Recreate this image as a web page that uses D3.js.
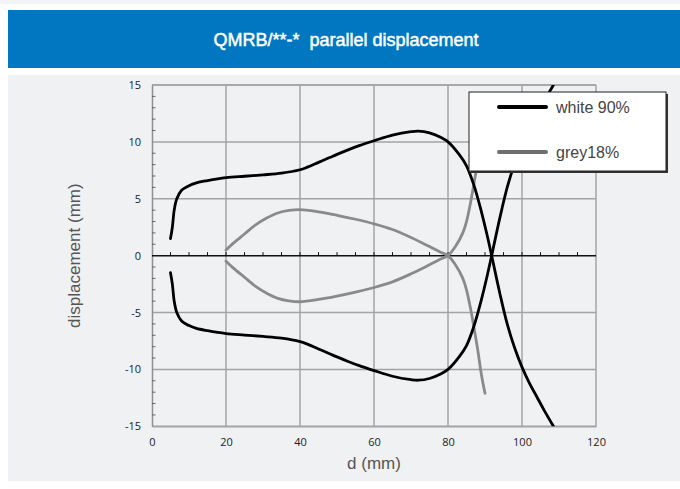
<!DOCTYPE html>
<html>
<head>
<meta charset="utf-8">
<script src="https://cdn.jsdelivr.net/npm/d3@7"></script>
<style>
  html, body { margin: 0; padding: 0; background: #ffffff; }
  svg { display: block; }
</style>
</head>
<body>
<svg id="chart" width="680" height="489"></svg>
<script>
// Parallel displacement of the QMRB sensor over scanning distance d
const titleText = "QMRB/**-*  parallel displacement";
const xTicks = [0, 20, 40, 60, 80, 100, 120];
const yTicks = [-15, -10, -5, 0, 5, 10, 15];
const seriesNames = ["white 90%", "grey18%"];

// white 90% target: distance (mm) and displacement of both edges (mm)
const whiteD = [5, 5.5, 6, 6.7, 8, 10, 12, 15, 20, 25, 30, 35, 40, 42, 45, 48, 50, 53, 56, 60, 65, 70, 72, 75, 78, 80, 83, 85, 87, 89, 90.5, 91.8, 94, 96, 98, 100, 102, 104, 106, 108.5];
const whiteUpper = [1.5, 2.5, 4.0, 5.0, 5.75, 6.15, 6.4, 6.6, 6.85, 6.98, 7.1, 7.25, 7.55, 7.78, 8.2, 8.62, 8.9, 9.3, 9.67, 10.1, 10.6, 10.9, 10.95, 10.8, 10.4, 10.0, 8.9, 7.9, 6.2, 3.9, 1.9, 0, -3.3, -6.0, -8.1, -9.8, -11.2, -12.4, -13.6, -15];
const whiteLower = [-1.5, -2.5, -4.0, -5.0, -5.75, -6.15, -6.4, -6.6, -6.85, -6.98, -7.1, -7.25, -7.55, -7.78, -8.2, -8.62, -8.9, -9.3, -9.67, -10.1, -10.6, -10.9, -10.95, -10.8, -10.4, -10.0, -8.9, -7.9, -6.2, -3.9, -1.9, 0, 3.3, 6.0, 8.1, 9.8, 11.2, 12.4, 13.6, 15];

// grey 18% target
const greyD = [20, 22, 25, 28, 31, 34, 37, 40, 45, 50, 55, 60, 65, 70, 75, 78, 80, 82, 84, 85, 86, 87, 88, 89, 90];
const greyUpper = [0.5, 1.1, 1.9, 2.7, 3.3, 3.75, 3.97, 4.05, 3.85, 3.55, 3.2, 2.8, 2.3, 1.6, 0.8, 0.3, 0, -0.8, -2.0, -3.0, -4.5, -6.3, -8.2, -10.4, -12.1];
const greyLower = [-0.5, -1.1, -1.9, -2.7, -3.3, -3.75, -3.97, -4.05, -3.85, -3.55, -3.2, -2.8, -2.3, -1.6, -0.8, -0.3, 0, 0.8, 2.0, 3.0, 4.5, 6.3, 8.2, 10.4, 12.1];

const svg = d3.select("#chart");

// page frame: header band and light panel
svg.append("rect").attr("x", 0).attr("y", 0).attr("width", 680).attr("height", 489).attr("fill", "#ffffff");
svg.append("rect").attr("x", 0).attr("y", 0).attr("width", 680).attr("height", 4).attr("fill", "#f3f4f5");
svg.append("rect").attr("x", 8).attr("y", 10).attr("width", 672).attr("height", 58).attr("fill", "#0077c0");
svg.append("text")
  .attr("x", 346).attr("y", 46)
  .attr("text-anchor", "middle")
  .attr("fill", "#ffffff")
  .attr("stroke", "#ffffff").attr("stroke-width", 0.5)
  .attr("font-family", "'Liberation Sans', Arial, sans-serif")
  .attr("font-size", 18)
  .style("white-space", "pre")
  .text(titleText);
svg.append("rect").attr("x", 8).attr("y", 75).attr("width", 672).attr("height", 406).attr("fill", "#f0f1f3");

// plot scales
const x = d3.scaleLinear().domain([0, 120]).range([152, 596]);
const y = d3.scaleLinear().domain([-15, 15]).range([426.3, 85]);
const tickText = d => String(d);

const plot = svg.append("g");

// grid
plot.append("g").selectAll("line").data(xTicks.filter(d => d > 0)).join("line")
  .attr("x1", d => x(d)).attr("x2", d => x(d))
  .attr("y1", y(15)).attr("y2", y(-15))
  .attr("stroke", "#a3a3a3").attr("stroke-width", 1.5);
plot.append("g").selectAll("line").data(yTicks.filter(d => d !== 0)).join("line")
  .attr("x1", x(0)).attr("x2", x(120))
  .attr("y1", d => y(d)).attr("y2", d => y(d))
  .attr("stroke", "#a3a3a3").attr("stroke-width", 1.5);

// y axis with minor ticks every 1 mm
const yAxis = d3.axisLeft(y).tickValues(yTicks).tickSize(0).tickPadding(11).tickFormat(tickText);
const yg = plot.append("g").attr("transform", `translate(${x(0)},0)`).call(yAxis);
yg.select(".domain").attr("stroke", "#8f8f8f").attr("stroke-width", 1.5);
yg.selectAll("text")
  .attr("font-family", "'Open Sans', 'Noto Sans', sans-serif")
  .attr("font-size", 11).attr("fill", "#222");
plot.append("g").selectAll("line").data(d3.range(-15, 16, 1).filter(d => d % 5 !== 0)).join("line")
  .attr("x1", x(0)).attr("x2", x(0) + 3.5)
  .attr("y1", d => y(d)).attr("y2", d => y(d))
  .attr("stroke", "#666").attr("stroke-width", 1);

// x axis labels along the bottom
const xAxis = d3.axisBottom(x).tickValues(xTicks).tickSize(0).tickPadding(12).tickFormat(tickText);
const xg = plot.append("g").attr("transform", `translate(0,${y(-15)})`).call(xAxis);
xg.select(".domain").attr("stroke", "#a3a3a3").attr("stroke-width", 1.5);
xg.selectAll("text")
  .attr("font-family", "'Open Sans', 'Noto Sans', sans-serif")
  .attr("font-size", 11).attr("fill", "#222");

// top frame line
plot.append("line")
  .attr("x1", x(0)).attr("x2", x(120)).attr("y1", y(15)).attr("y2", y(15))
  .attr("stroke", "#a3a3a3").attr("stroke-width", 1.5);

// zero line with minor ticks every 5 mm
plot.append("line")
  .attr("x1", x(0)).attr("x2", x(120)).attr("y1", y(0)).attr("y2", y(0))
  .attr("stroke", "#111").attr("stroke-width", 1.5);
plot.append("g").selectAll("line").data(d3.range(5, 120, 5)).join("line")
  .attr("x1", d => x(d)).attr("x2", d => x(d))
  .attr("y1", y(0)).attr("y2", y(0) - 3.5)
  .attr("stroke", "#111").attr("stroke-width", 1);

// axis titles
svg.append("text")
  .attr("transform", `translate(80,${y(0)}) rotate(-90)`)
  .attr("text-anchor", "middle")
  .attr("font-family", "'Liberation Sans', Arial, sans-serif")
  .attr("font-size", 17).attr("fill", "#555")
  .text("displacement (mm)");
svg.append("text")
  .attr("x", 374).attr("y", 469)
  .attr("text-anchor", "middle")
  .attr("font-family", "'Liberation Sans', Arial, sans-serif")
  .attr("font-size", 17).attr("fill", "#555")
  .text("d (mm)");

// curves
svg.append("clipPath").attr("id", "plotClip")
  .append("rect").attr("x", x(0)).attr("y", y(15)).attr("width", x(120) - x(0)).attr("height", y(-15) - y(15));

const line = d3.line().x(d => x(d[0])).y(d => y(d[1])).curve(d3.curveCatmullRom.alpha(0.5));
const curves = plot.append("g").attr("clip-path", "url(#plotClip)");

const greyColor = "#8a8a8a";
[greyUpper, greyLower].forEach(vals => {
  curves.append("path")
    .datum(d3.zip(greyD, vals))
    .attr("d", line)
    .attr("fill", "none").attr("stroke", greyColor).attr("stroke-width", 2.8)
    .attr("stroke-linecap", "round");
});
[whiteUpper, whiteLower].forEach(vals => {
  curves.append("path")
    .datum(d3.zip(whiteD, vals))
    .attr("d", line)
    .attr("fill", "none").attr("stroke", "#000").attr("stroke-width", 2.8)
    .attr("stroke-linecap", "round");
});

// legend
const lg = svg.append("g").attr("transform", "translate(469,92)");
lg.append("rect").attr("x", 2).attr("y", 2).attr("width", 197).attr("height", 79).attr("fill", "#333");
lg.append("rect").attr("x", 0).attr("y", 0).attr("width", 197).attr("height", 79)
  .attr("fill", "#ffffff").attr("stroke", "#222").attr("stroke-width", 1);
const legendColors = ["#000", "#6f6f6f"];
seriesNames.forEach((name, i) => {
  const ly = 15 + i * 45;
  lg.append("line")
    .attr("x1", 30).attr("x2", 77).attr("y1", ly).attr("y2", ly)
    .attr("stroke", legendColors[i]).attr("stroke-width", 4).attr("stroke-linecap", "round");
  lg.append("text")
    .attr("x", 87).attr("y", ly + 6)
    .attr("font-family", "'Liberation Sans', Arial, sans-serif")
    .attr("font-size", 16).attr("fill", "#444")
    .text(name);
});
</script>
</body>
</html>
